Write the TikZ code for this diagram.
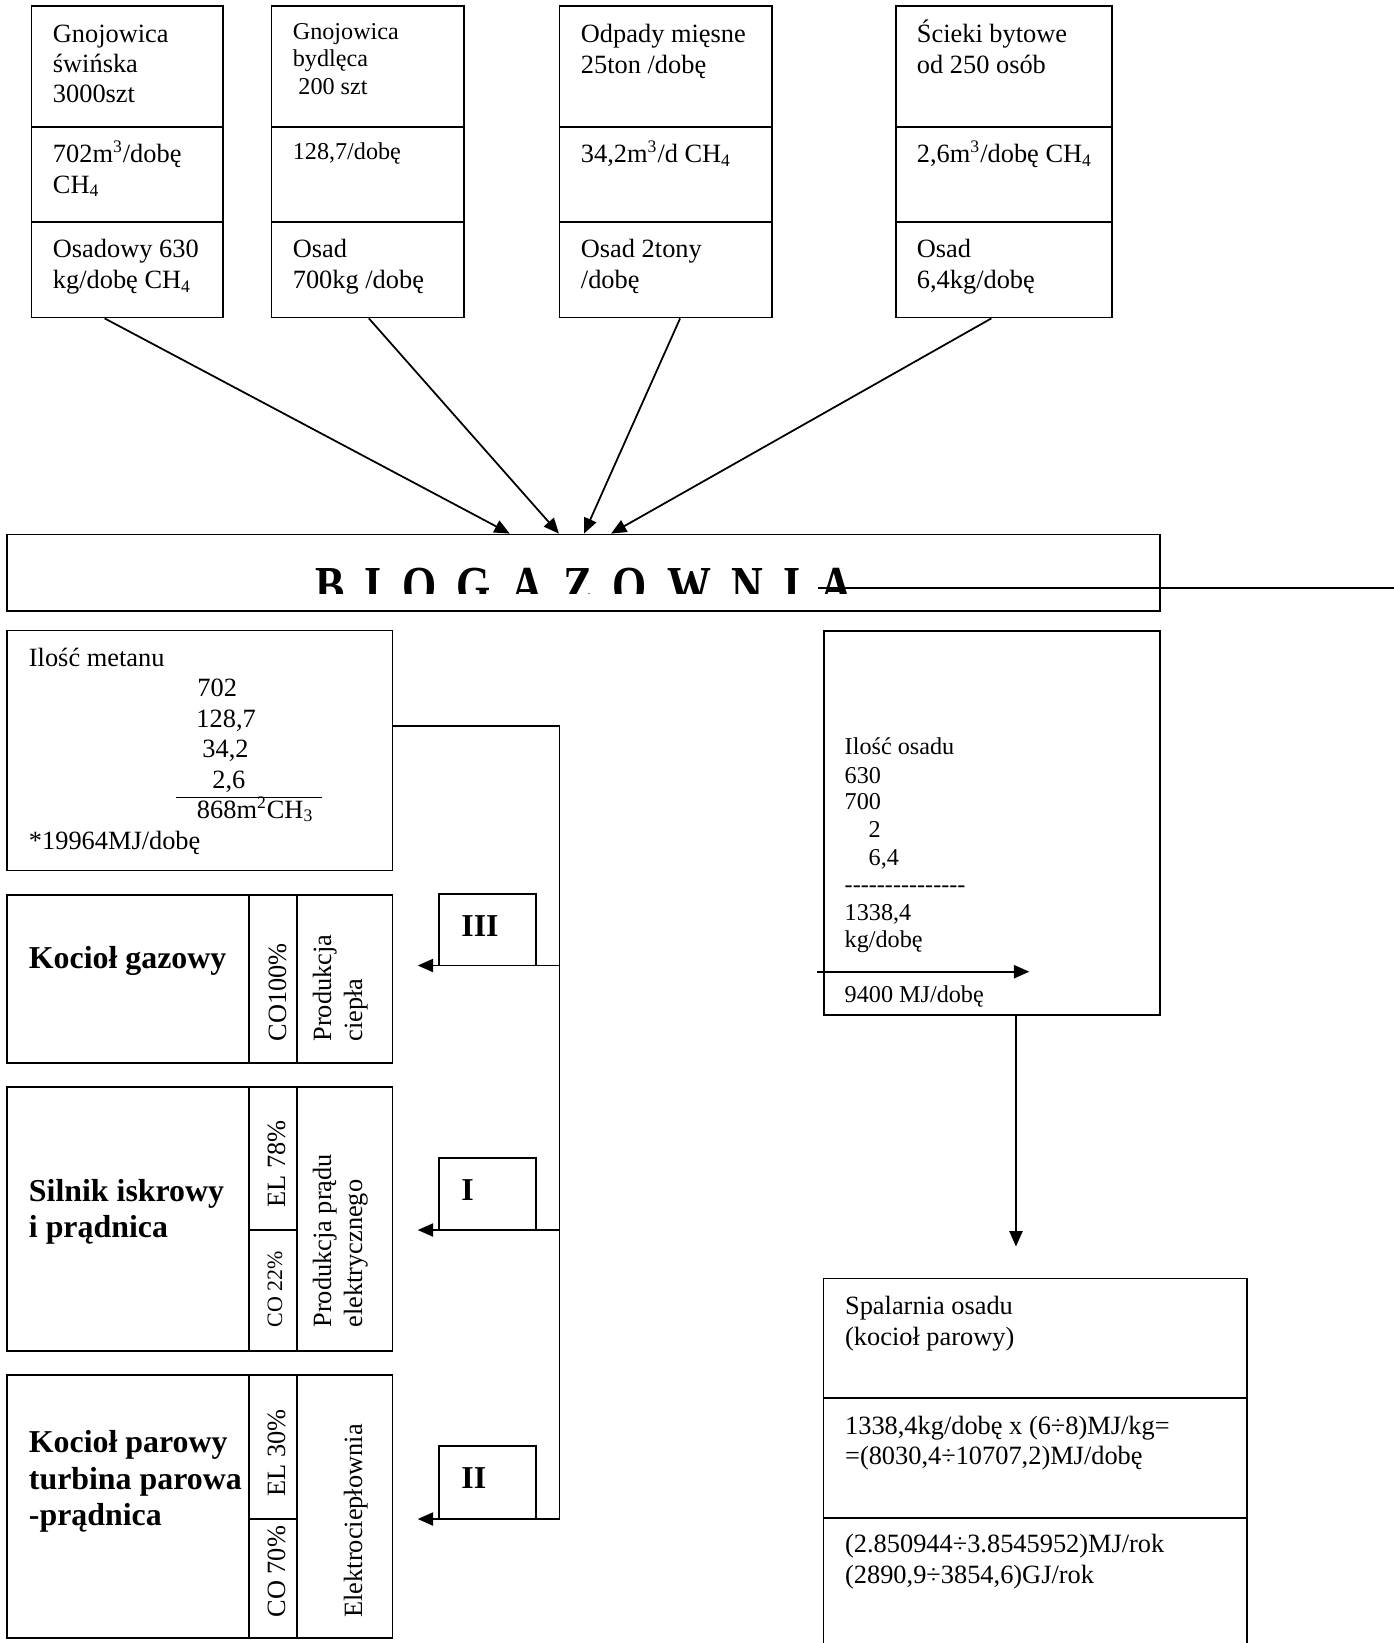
\documentclass[tikz,border=0pt]{standalone}
\usepackage{fontspec}
\usepackage{graphicx}
\setmainfont{Liberation Serif}
\usetikzlibrary{arrows.meta,calc,fit}
\tikzset{
  bx/.style={draw, line width=0.8pt, inner sep=0pt},
  ln/.style={line width=0.8pt},
  t12/.style={anchor=base west, inner sep=0pt, font=\fontsize{12}{14}\selectfont},
  t11/.style={anchor=base west, inner sep=0pt, font=\fontsize{11}{13}\selectfont},
  t10/.style={anchor=base west, inner sep=0pt, font=\fontsize{10}{12}\selectfont},
  tb/.style={anchor=base west, inner sep=0pt, font=\fontsize{14.5}{17}\selectfont\bfseries},
  rt/.style={t12, rotate=90},
  arr/.style={ln, -{Triangle[length=7pt,width=6pt]}},
}
\newcommand{\lgap}{\hspace{11.5pt}}
\begin{document}
\begin{tikzpicture}[x=0.455pt,y=-0.455pt]
\useasboundingbox (0,0) rectangle (1394,1643);

% ---------- top boxes ----------
\node[bx, fit={(31.4,6.3) (223.2,317.5)}] (b1) {};
\node[bx, fit={(271.4,6.3) (464,317.5)}] (b2) {};
\node[bx, fit={(559.4,6.3) (771.7,317.5)}] (b3) {};
\node[bx, fit={(896,6.3) (1112,317.5)}] (b4) {};
\foreach \xa/\xb in {31.4/223.2, 271.4/464, 559.4/771.7, 896/1112}{
  \draw[ln] (\xa,126.8) -- (\xb,126.8);
  \draw[ln] (\xa,222.2) -- (\xb,222.2);
}
% box 1
\node[t12] (a11) at (52.5,42.5) {Gnojowica};
\node[t12] (a12) at (52.5,72.5) {świńska};
\node[t12] (a13) at (52.5,102.5) {3000szt};
\node[t12] (a14) at (52.5,162.5) {702m\textsuperscript{3}/dobę};
\node[t12] (a15) at (52.5,193) {CH\textsubscript{4}};
\node[t12] (a16) at (52.5,257) {Osadowy 630};
\node[t12] (a17) at (52.5,288.5) {kg/dobę CH\textsubscript{4}};
% box 2
\node[t11] (a21) at (292.4,39) {Gnojowica};
\node[t11] (a22) at (292.4,66) {bydlęca};
\node[t11] (a23) at (298,94.5) {200 szt};
\node[t11] (a24) at (292.4,159) {128,7/dobę};
\node[t12] (a25) at (292.4,257) {Osad};
\node[t12] (a26) at (292.4,288.5) {700kg /dobę};
% box 3
\node[t12] (a31) at (580.5,42) {Odpady mięsne};
\node[t12] (a32) at (580.5,73) {25ton /dobę};
\node[t12] (a33) at (580.5,162.5) {34,2m\textsuperscript{3}/d CH\textsubscript{4}};
\node[t12] (a34) at (580.5,257) {Osad 2tony};
\node[t12] (a35) at (580.5,288.5) {/dobę};
% box 4
\node[t12] (a41) at (916.5,42) {Ścieki bytowe};
\node[t12] (a42) at (916.5,73) {od 250 osób};
\node[t12] (a43) at (916.5,162.5) {2,6m\textsuperscript{3}/dobę CH\textsubscript{4}};
\node[t12] (a44) at (916.5,257) {Osad};
\node[t12] (a45) at (916.5,288.5) {6,4kg/dobę};

% ---------- BIOGAZOWNIA ----------
\node[bx, fit={(7.3,534.5) (1160,611)}] (bio) {};
\begin{scope}
  \clip (7.3,534.5) rectangle (1160,593.5);
  \node[anchor=base west, inner sep=0pt] (biot) at (315,604)
    {\scalebox{0.8}[1]{\fontsize{25}{30}\selectfont\bfseries B\lgap I\lgap O\lgap G\lgap A\lgap Z\lgap O\lgap W\lgap N\lgap I\lgap A}};
\end{scope}
\coordinate (lnA) at (818,588);
\coordinate (lnB) at (1394,588);
\draw[ln] (lnA) -- (lnB);

\draw[arr] ($(b1.south west)!0.383!(b1.south east)$) -- ($(bio.north west)!0.436!(bio.north east)$);
\draw[arr] ($(b2.south west)!0.506!(b2.south east)$) -- ($(bio.north west)!0.4786!(bio.north east)$);
\draw[arr] ($(b3.south west)!0.568!(b3.south east)$) -- ($(bio.north west)!0.5003!(bio.north east)$);
\draw[arr] ($(b4.south west)!0.442!(b4.south east)$) -- ($(bio.north west)!0.5237!(bio.north east)$);

% ---------- methane box ----------
\node[bx, fit={(7.3,630.5) (392.5,870.5)}] (met) {};
\node[t12] (m1) at (28.5,666) {Ilość metanu};
\node[t12] (m2) at (197,696.5) {702};
\node[t12] (m3) at (196,727) {128,7};
\node[t12] (m4) at (202,757) {34,2};
\node[t12] (m5) at (212,788) {2,6};
\draw[ln] (175.8,797.5) -- (322,797.5);
\node[t12] (m6) at (196.5,818) {868m\textsuperscript{2}CH\textsubscript{3}};
\node[t12] (m7) at (28.5,849.5) {*19964MJ/dobę};

% ---------- left boxes ----------
\node[bx, fit={(7.3,895) (392.5,1062.7)}] (kg) {};
\node[bx, fit={(7.3,1087) (392.5,1351)}] (si) {};
\node[bx, fit={(7.3,1375) (392.5,1638.3)}] (kp) {};
\draw[ln] (249,895) -- (249,1062.7) (297,895) -- (297,1062.7);
\draw[ln] (249,1087) -- (249,1351) (297,1087) -- (297,1351) (249,1230) -- (297,1230);
\draw[ln] (249,1375) -- (249,1638.3) (297,1375) -- (297,1638.3) (249,1519) -- (297,1519);

\node[tb] (k1) at (28.5,968) {Kocioł gazowy};
\node[tb] (s1) at (28.5,1201) {Silnik iskrowy};
\node[tb] (s2) at (28.5,1237.5) {i prądnica};
\node[tb] (p1) at (28.5,1452) {Kocioł parowy};
\node[tb] (p2) at (28.5,1489) {turbina parowa};
\node[tb] (p3) at (28.5,1525) {-prądnica};

\node[rt] (r1) at (286,1042) {CO100\%};
\node[rt] (r2) at (331,1042) {Produkcja};
\node[rt] (r3) at (362,1042) {ciepła};
\node[rt] (r4) at (285,1208) {EL 78\%};
\node[t10, rotate=90] (r5) at (282,1328) {CO 22\%};
\node[rt] (r6) at (331,1328) {Produkcja prądu};
\node[rt] (r7) at (362,1328) {elektrycznego};
\node[rt] (r8) at (285,1497) {EL 30\%};
\node[rt] (r9) at (285,1618) {CO 70\%};
\node[rt] (r10) at (362,1618) {Elektrociepłownia};

% ---------- distribution ----------
\coordinate (j0) at (559.6,726.3);
\coordinate (j3) at (559.6,965.5);
\coordinate (j1) at (559.6,1230);
\coordinate (j2) at (559.6,1519);
\draw[ln] (met.east |- j0) -- (j0) -- (j2);
\draw[arr, shorten >=11.1pt] (j3) -- (kg.east |- j3);
\draw[arr, shorten >=11.1pt] (j1) -- (si.east |- j1);
\draw[arr, shorten >=11.1pt] (j2) -- (kp.east |- j2);

\node[bx, fit={(439.3,894) (535.7,965.5)}] (n3) {};
\node[bx, fit={(439.3,1158) (535.7,1230)}] (n1) {};
\node[bx, fit={(439.3,1446) (535.7,1519)}] (n2) {};
\node[tb] (n3t) at (461,936) {III};
\node[tb] (n1t) at (461,1200) {I};
\node[tb] (n2t) at (461,1488) {II};

% ---------- sludge box ----------
\node[bx, fit={(824,630.7) (1160,1015)}] (os) {};
\node[t11] (o1) at (844.3,754.5) {Ilość osadu};
\node[t11] (o2) at (844.3,783) {630};
\node[t11] (o3) at (844.3,809) {700};
\node[t11] (o4) at (868.3,837) {2};
\node[t11] (o5) at (868.3,865.5) {6,4};
\node[t11] (o6) at (844.3,892.6) {-{}-{}-{}-{}-{}-{}-{}-{}-{}-{}-{}-{}-{}-{}-};
\node[t11] (o7) at (844.3,920) {1338,4};
\node[t11] (o8) at (844.3,947) {kg/dobę};
\node[t11] (o9) at (844.3,1002.5) {9400 MJ/dobę};
\coordinate (oa) at (817.3,971.7);
\coordinate (ob) at (1029.3,971.7);
\draw[arr] (oa) -- (ob);

% ---------- incinerator ----------
\node[inner sep=0pt, fit={(824,1279) (1246.2,1643)}] (sp) {};
\draw[ln] (sp.south west) -- (sp.north west) -- (sp.north east) -- (sp.south east);
\draw[ln] (824,1398.3) -- (1246.2,1398.3);
\draw[ln] (824,1518.3) -- (1246.2,1518.3);
\node[t12] (q1) at (844.7,1314) {Spalarnia osadu};
\node[t12] (q2) at (844.7,1345) {(kocioł parowy)};
\node[t12] (q3) at (844.7,1434) {1338,4kg/dobę x (6÷8)MJ/kg=};
\node[t12] (q4) at (844.7,1464.5) {=(8030,4÷10707,2)MJ/dobę};
\node[t12] (q5) at (844.7,1552.5) {(2.850944÷3.8545952)MJ/rok};
\node[t12] (q6) at (844.7,1583) {(2890,9÷3854,6)GJ/rok};

\coordinate (dn) at ($(os.south west)!0.571!(os.south east)$);
\draw[arr, shorten >=14.6pt] (dn) -- (sp.north -| dn);
\end{tikzpicture}
\end{document}
